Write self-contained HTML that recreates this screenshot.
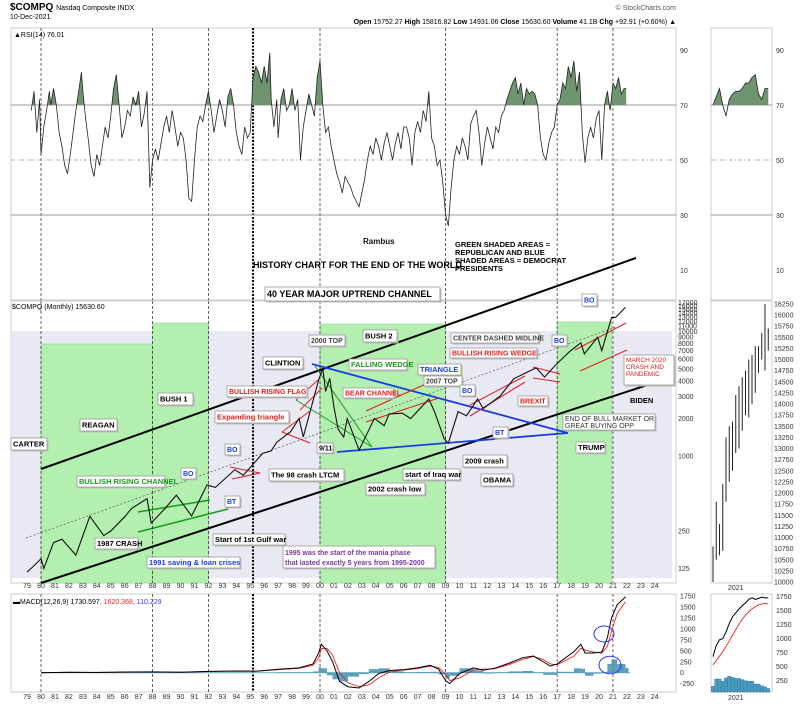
<!DOCTYPE html>
<html><head><meta charset="utf-8"><style>
html,body{margin:0;padding:0;background:#fff;width:800px;height:704px;overflow:hidden}
svg{display:block;font-family:"Liberation Sans",sans-serif}
.lb{fill:#fff;stroke:#999;stroke-width:0.8}
.t{font-size:8px;font-weight:bold;fill:#111}
.ax{font-size:7px;fill:#333}
</style></head><body>
<svg id="c" width="800" height="704" viewBox="0 0 800 704" xmlns="http://www.w3.org/2000/svg">
<text x="10" y="10" font-size="10" font-weight="bold">$COMPQ <tspan font-size="7" font-weight="normal">Nasdaq Composite INDX</tspan></text>
<text x="10" y="19" font-size="7">10-Dec-2021</text>
<text x="676" y="10" font-size="7" text-anchor="end" fill="#555">© StockCharts.com</text>
<text x="676" y="24" font-size="7" text-anchor="end"><tspan font-weight="bold">Open</tspan> 15752.27 <tspan font-weight="bold">High</tspan> 15816.82 <tspan font-weight="bold">Low</tspan> 14931.06 <tspan font-weight="bold">Close</tspan> 15630.60 <tspan font-weight="bold">Volume</tspan> 41.1B <tspan font-weight="bold">Chg</tspan> +92.91 (+0.60%) ▲</text>
<g id="panels"></g>
<g id="shade"></g>
<g id="grid"></g>
<g id="series"></g>
<g id="notes">
<text x="363" y="244" class="t" font-weight="normal">Rambus</text>
<text x="253" y="268" font-size="9" font-weight="bold">HISTORY CHART FOR THE END OF THE WORLD</text>
<text font-size="7.5" font-weight="bold"><tspan x="455" y="247">GREEN SHADED AREAS =</tspan><tspan x="455" y="255">REPUBLICAN AND BLUE</tspan><tspan x="455" y="263">SHADED AREAS = DEMOCRAT</tspan><tspan x="455" y="271">PRESIDENTS</tspan></text>
</g>
</svg>
<script>
// ---------- data ----------
const priceYears=[1979.0,1979.6,1980.0,1980.2,1980.9,1981.5,1982.5,1983.5,1984.5,1985.0,1986.0,1986.5,1987.6,1987.9,1988.9,1989.7,1990.8,1991.9,1992.5,1993.9,1994.5,1995.9,1996.5,1996.9,1997.9,1998.5,1998.8,1999.9,2000.2,2000.4,2000.7,2001.0,2001.3,2001.7,2001.95,2002.8,2003.9,2004.6,2004.95,2005.9,2006.5,2007.8,2008.2,2008.9,2009.2,2009.9,2010.5,2011.3,2011.7,2012.9,2013.9,2014.9,2015.5,2016.1,2016.9,2017.9,2018.7,2018.95,2019.9,2020.2,2020.9,2021.2,2021.9];
const priceVals=[117,135,150,125,202,215,160,328,230,250,325,380,455,290,380,485,330,586,560,777,700,1052,1100,1290,1570,2000,1420,4069,5048,3300,4200,2470,1640,1420,2000,1114,2003,1750,2175,2205,2000,2860,2280,1380,1268,2269,2100,2870,2400,3020,4177,4736,5100,4300,5383,6903,8100,6600,8972,7000,12888,13000,15630];
const priceTicks=[125,250,1000,2000,3000,4000,5000,6000,7000,8000,9000,10000,11000,12000,13000,14000,15000,16000,17000];
const rsiYears=[1979.3,1979.5,1979.7,1979.9,1980.0,1980.2,1980.4,1980.6,1980.7,1980.9,1981.1,1981.3,1981.5,1981.7,1981.9,1982.1,1982.3,1982.5,1982.7,1982.9,1983.0,1983.2,1983.4,1983.6,1983.8,1984.0,1984.2,1984.4,1984.6,1984.8,1985.0,1985.2,1985.4,1985.6,1985.8,1986.0,1986.2,1986.4,1986.6,1986.8,1987.0,1987.2,1987.4,1987.6,1987.8,1988.0,1988.2,1988.4,1988.6,1988.8,1989.0,1989.2,1989.4,1989.6,1989.8,1990.0,1990.2,1990.4,1990.6,1990.8,1991.0,1991.2,1991.4,1991.6,1991.8,1992.0,1992.2,1992.4,1992.6,1992.8,1993.0,1993.2,1993.4,1993.6,1993.8,1994.0,1994.2,1994.4,1994.6,1994.8,1995.0,1995.2,1995.4,1995.6,1995.8,1996.0,1996.2,1996.4,1996.5,1996.7,1996.9,1997.0,1997.2,1997.4,1997.6,1997.8,1998.0,1998.2,1998.4,1998.6,1998.8,1999.0,1999.2,1999.4,1999.6,1999.8,2000.0,2000.2,2000.4,2000.6,2000.8,2001.0,2001.2,2001.4,2001.6,2001.8,2002.0,2002.2,2002.4,2002.6,2002.8,2003.0,2003.2,2003.4,2003.6,2003.8,2004.0,2004.2,2004.4,2004.6,2004.8,2005.0,2005.2,2005.4,2005.6,2005.8,2006.0,2006.2,2006.4,2006.6,2006.8,2007.0,2007.2,2007.4,2007.6,2007.8,2008.0,2008.2,2008.4,2008.6,2008.8,2009.0,2009.2,2009.4,2009.6,2009.8,2010.0,2010.2,2010.4,2010.6,2010.8,2011.0,2011.2,2011.4,2011.6,2011.8,2012.0,2012.2,2012.4,2012.6,2012.8,2013.0,2013.2,2013.4,2013.6,2013.8,2014.0,2014.2,2014.4,2014.6,2014.8,2015.0,2015.2,2015.4,2015.6,2015.8,2016.0,2016.2,2016.4,2016.6,2016.8,2017.0,2017.2,2017.4,2017.6,2017.8,2018.0,2018.2,2018.4,2018.6,2018.8,2019.0,2019.2,2019.4,2019.6,2019.8,2020.0,2020.2,2020.4,2020.6,2020.8,2021.0,2021.2,2021.4,2021.6,2021.8,2021.95];
const rsiVals=[68,75,60,72,52,62,68,75,70,76,70,60,55,48,45,52,60,68,75,82,75,65,57,48,44,52,48,55,62,58,66,76,81,70,58,62,68,66,73,70,75,62,67,75,40,50,54,50,56,62,66,60,68,62,55,60,58,50,36,35,50,62,66,64,70,75,68,60,66,72,68,62,73,76,70,60,55,52,62,58,60,80,84,82,78,84,78,89,72,62,72,58,72,76,68,70,76,68,72,50,62,68,74,70,66,80,86,70,60,62,55,50,45,42,38,44,42,40,37,35,33,38,43,50,55,52,58,55,50,56,60,55,50,56,60,54,62,62,58,48,60,64,60,68,64,75,58,55,48,50,42,30,26,40,50,55,52,58,55,50,63,66,68,60,48,56,62,58,54,62,60,66,68,72,75,78,80,74,78,70,76,74,75,74,70,58,52,50,56,60,62,70,72,78,76,84,80,86,75,82,60,49,58,62,58,65,68,50,70,75,68,78,76,80,74,76,76];
const rsiTicks=[10,30,50,70,90];
const macdYears=[1980,1982,1984,1986,1988,1990,1992,1994,1995.5,1997,1998.5,1999.5,1999.9,2000.1,2000.5,2000.9,2001.4,2002.0,2002.8,2003.5,2004.2,2005,2006,2007,2007.9,2008.5,2009.0,2009.3,2010.0,2011.0,2011.7,2012.5,2013.5,2014.5,2015.3,2016.0,2016.5,2017.0,2018.2,2018.7,2019.0,2019.6,2020.2,2020.6,2020.9,2021.3,2021.9];
const macdVals=[0,10,5,15,20,10,30,40,35,80,110,200,450,650,500,250,-200,-320,-350,-200,-20,50,70,110,170,80,-180,-250,-20,110,60,100,210,340,380,250,150,200,480,650,450,450,470,800,1250,1550,1730];
const signalVals=[0,8,8,12,18,12,25,38,35,70,100,170,330,550,560,400,0,-230,-320,-280,-120,20,60,95,150,120,-40,-180,-120,60,80,90,180,300,370,300,200,180,380,560,520,470,450,600,950,1350,1620];
const macdTicks=[-250,0,250,500,750,1000,1250,1500,1750];
const yearTicks=["79","80","81","82","83","84","85","86","87","88","89","90","91","92","93","94","95","96","97","98","99","00","01","02","03","04","05","06","07","08","09","10","11","12","13","14","15","16","17","18","19","20","21","22","23","24"];
const eraStarts=[1980,1988,1992,2000,2009,2017,2021];
// mini 2021 panel
const miniLows=[10000,10500,10600,10700,11800,12250,12500,12900,13000,13400,13750,13700,14000,14250,14700,15000,14750,15200];
const miniHighs=[10800,11800,11300,12200,13250,13500,13600,14200,14400,14600,14750,15000,15100,15300,15300,15600,16250,15700];
const miniPriceTicks=[10000,10250,10500,10750,11000,11250,11500,11750,12000,12250,12500,12750,13000,13250,13500,13750,14000,14250,14500,14750,15000,15250,15500,15750,16000,16250];
const miniRsi=[70,73,76,70,66,72,74,75,75,76,78,78,80,81,74,72,76,76];
const miniMacd=[680,880,980,1000,1120,1270,1390,1460,1530,1590,1640,1700,1730,1700,1720,1740,1730,1730];
const miniSignal=[530,610,690,770,860,960,1060,1160,1260,1350,1420,1480,1530,1570,1600,1620,1630,1620];
const miniHist=[150,280,280,240,300,330,310,290,290,270,250,240,240,190,190,160,140,110];
const miniMacdTicks=[250,500,750,1000,1250,1500,1750];

// ---------- scales ----------
const NS="http://www.w3.org/2000/svg";
const X=y=>41+(y-1980)*13.95;
const PY=v=>456-124.6*Math.log10(v/1000);
const RY=v=>105-(v-70)*2.75;
const MY=v=>672.7-v*0.0438;
const mX=i=>713+i*3.25;
const mPY=v=>582-(v-10000)*0.0445;
const mMY=v=>596.7+(1750-v)*0.056;
function el(tag,attrs,parent){const e=document.createElementNS(NS,tag);for(const k in attrs)e.setAttribute(k,attrs[k]);(parent||document.getElementById('series')).appendChild(e);return e;}
const P=document.getElementById('panels'),S=document.getElementById('shade'),G=document.getElementById('grid'),SE=document.getElementById('series');

// panel frames
[[11,28,665,272,'rsi-panel'],[11,301,665,282,'price-panel'],[11,594,665,98,'macd-panel'],[711,28,61,272,'mini-rsi-panel'],[711,301,61,282,'mini-price-panel'],[711,594,61,98,'mini-macd-panel']].forEach(p=>{
 const r=el('rect',{x:p[0],y:p[1],width:p[2],height:p[3],fill:'#fff',stroke:'#ccc','stroke-width':1},P);
 
 
});

// president shading
const bg=el('rect',{x:11,y:331,width:661,height:247,fill:'#e9e9f4'},S);


[[1980,1988,344,'reagan-shading'],[1988,1992,323,'bush1-shading'],[2000,2009,324,'bush2-shading'],[2017,2020.9,322,'trump-shading']].forEach(g=>{
 const r=el('rect',{x:X(g[0]),y:g[2],width:X(g[1])-X(g[0]),height:583-g[2],fill:'#b3f0b0',stroke:'#8fd88a','stroke-width':0.6},S);
 
 
});

// vertical era lines
eraStarts.forEach(y=>{
 [[28,300],[301,583],[594,692]].forEach(s=>{
  const l=el('line',{x1:X(y),x2:X(y),y1:s[0],y2:s[1],stroke:'#222','stroke-width':0.7,'stroke-dasharray':'3,2'},G);
  
  
 });
});
[[28,300],[301,583],[594,692]].forEach(s=>{
 const l=el('line',{x1:X(1995.2),x2:X(1995.2),y1:s[0],y2:s[1],stroke:'#000','stroke-width':2,'stroke-dasharray':'2,1.5'},G);
 
 
});

// year labels
yearTicks.forEach((t,i)=>{
 [588,699].forEach(yy=>{
  const tx=el('text',{x:X(1979+i),y:yy,'text-anchor':'middle',class:'ax'},G);
  tx.textContent=t;
  
  
 });
});
[[728,590],[728,700]].forEach(p=>{const tx=el('text',{x:p[0],y:p[1],class:'ax'},G);tx.textContent='2021';
 
 });

// RSI ticks and lines
rsiTicks.forEach(v=>{
 [[680],[776]].forEach(p=>{const tx=el('text',{x:p[0],y:RY(v)+3,class:'ax'},G);tx.textContent=v;
  
  });
 if(v==70||v==30||v==50){
  [[11,676],[711,772]].forEach(s=>{const l=el('line',{x1:s[0],x2:s[1],y1:RY(v),y2:RY(v),stroke:'#999','stroke-width':v==50?0.7:1,'stroke-dasharray':v==50?'4,2,1,2':'none'},G);
   
   });
 }
});
// RSI series
function rsiDraw(xs,vals,xf,name){
 const pts=vals.map((v,i)=>xf(xs[i])+','+RY(v)).join(' ');
 const cid='clip'+name;
 const cp=el('clipPath',{id:cid},SE);
 el('rect',{x:0,y:0,width:800,height:RY(70)},cp);
 const fillPts=xf(xs[0])+','+RY(70)+' '+pts+' '+xf(xs[xs.length-1])+','+RY(70);
 const f=el('polygon',{points:fillPts,fill:'#6f9470','clip-path':'url(#'+cid+')'});
 
 
 const l=el('polyline',{points:pts,fill:'none',stroke:'#222','stroke-width':0.8});
 
 
}
rsiDraw(rsiYears,rsiVals,X,'rsi');
rsiDraw(miniRsi.map((v,i)=>i),miniRsi,mX,'mini-rsi');

// price ticks
priceTicks.forEach(v=>{const tx=el('text',{x:678,y:PY(v)+2.5,class:'ax','font-size':6},G);tx.textContent=v;
 
 });
miniPriceTicks.forEach(v=>{const tx=el('text',{x:774,y:mPY(v)+2.5,class:'ax','font-size':6.5},G);tx.textContent=v;
 
 });

// channel lines
[[41,469,636,258,'#000',2,'upper-channel-line',''],[41,583,672,377,'#000',2,'lower-channel-line',''],[26,538,616,327,'#555',0.7,'center-dashed-midline','2,2'],
 [312,364,568,433,'#1a3de0',1.8,'triangle-upper-line',''],[337,452,568,433,'#1a3de0',1.8,'triangle-lower-line',''],
 [315,366,372,447,'#1a9a1a',1,'falling-wedge-upper',''],[296,400,372,447,'#1a9a1a',1,'falling-wedge-lower',''],
 [138,512,210,500,'#1a9a1a',1.5,'rising-channel-upper',''],[138,532,228,509,'#1a9a1a',1.5,'rising-channel-lower',''],
 [282,432,310,411,'#e02020',1,'expanding-triangle-upper',''],[282,432,310,443,'#e02020',1,'expanding-triangle-lower',''],
 [300,410,322,388,'#e02020',1,'rising-flag-lower',''],[296,400,318,380,'#e02020',1,'rising-flag-upper',''],
 [230,467,260,473,'#e02020',1,'bo-triangle-upper',''],[232,479,260,473,'#e02020',1,'bo-triangle-lower',''],
 [366,422,439,398,'#e02020',1.1,'bear-channel-lower',''],[366,411,439,378,'#e02020',1.1,'bear-channel-upper',''],
 [470,416,525,382,'#e02020',1.1,'rising-wedge-lower',''],[470,405,525,376,'#e02020',1.1,'rising-wedge-upper',''],
 [533,367,560,374,'#e02020',1,'brexit-upper',''],[533,378,560,382,'#e02020',1,'brexit-lower',''],
 [575,350,626,323,'#e02020',1.1,'pandemic-upper',''],[580,371,627,350,'#e02020',1.1,'pandemic-lower','']
].forEach(c=>{const l=el('line',{x1:c[0],y1:c[1],x2:c[2],y2:c[3],stroke:c[4],'stroke-width':c[5],'stroke-dasharray':c[7]||'none'},S);
 
 });

// price series
const pl=el('polyline',{points:priceVals.map((v,i)=>X(priceYears[i])+','+PY(v)).join(' '),fill:'none',stroke:'#111','stroke-width':1.1});


// mini price bars
miniLows.forEach((lo,i)=>{
 const b=el('line',{x1:mX(i),x2:mX(i),y1:mPY(miniHighs[i]),y2:mPY(lo),stroke:'#222','stroke-width':1});
 
 
});

// MACD
macdTicks.forEach(v=>{const tx=el('text',{x:680,y:MY(v)+2.5,class:'ax'},G);tx.textContent=v;
 
 });
miniMacdTicks.forEach(v=>{const tx=el('text',{x:776,y:mMY(v)+2.5,class:'ax'},G);tx.textContent=v;
 
 });
const z=el('line',{x1:41,x2:630,y1:MY(0),y2:MY(0),stroke:'#6ab',"stroke-width":1},G);


macdVals.forEach((v,i)=>{
 const d=v-signalVals[i];
 const w=i<macdVals.length-1?Math.max(1,X(macdYears[i+1])-X(macdYears[i])):3;
 const r=el('rect',{x:X(macdYears[i]),y:Math.min(MY(0),MY(d)),width:w,height:Math.abs(MY(d)-MY(0)),fill:'#3f8fb0',opacity:0.85});
 
 
});
const sl=el('polyline',{points:signalVals.map((v,i)=>X(macdYears[i])+','+MY(v)).join(' '),fill:'none',stroke:'#e22','stroke-width':0.9});


const ml=el('polyline',{points:macdVals.map((v,i)=>X(macdYears[i])+','+MY(v)).join(' '),fill:'none',stroke:'#000','stroke-width':1});


miniHist.forEach((v,i)=>{
 const r=el('rect',{x:mX(i)-1.6,y:mMY(v),width:3.2,height:692-mMY(v),fill:'#4a9cc4',stroke:'#2a6f8f','stroke-width':0.4});
 
 
});
const msl=el('polyline',{points:miniSignal.map((v,i)=>mX(i)+','+mMY(v)).join(' '),fill:'none',stroke:'#e22','stroke-width':0.9});


const mml=el('polyline',{points:miniMacd.map((v,i)=>mX(i)+','+mMY(v)).join(' '),fill:'none',stroke:'#000','stroke-width':1});


[[604,634,10,'circle'],[610,665,11,'circle']].forEach(c=>{const e=el('ellipse',{cx:c[0],cy:c[1],rx:c[2],ry:c[2]*0.8,fill:'none',stroke:'#33f','stroke-width':1});
 
 });

// panel labels
[[14,37,'▲RSI(14) 76.01','rsi-legend'],[12,309,'$COMPQ (Monthly) 15630.60','price-legend']].forEach(p=>{const tx=el('text',{x:p[0],y:p[1],'font-size':7},G);tx.textContent=p[2];
 
 });
const mt=el('text',{x:13,y:604,'font-size':7},G);
mt.innerHTML='▬MACD(12,26,9) 1730.597<tspan fill="#e22">, 1620.368</tspan><tspan fill="#33f">, 110.229</tspan>';



// annotation boxes
const notes=document.getElementById('notes');
[
 [265,287,175,14,'40 YEAR MAJOR UPTREND CHANNEL','#000',9,'channel-title-box'],
 [11,438,36,12,'CARTER','#000',7.5,'carter-label'],[80,419,37,12,'REAGAN','#000',7.5,'reagan-label'],
 [158,393,35,12,'BUSH 1','#000',7.5,'bush1-label'],[263,357,40,12,'CLINTION','#000',7.5,'clinton-label'],
 [309,335,36,11,'2000 TOP','#444',7,'2000-top-label'],[363,330,34,12,'BUSH 2','#000',7.5,'bush2-label'],
 [349,359,58,11,'FALLING WEDGE','#1a9a1a',7.5,'falling-wedge-label'],[418,364,43,11,'TRIANGLE','#1a3de0',7.5,'triangle-label'],
 [424,376,38,10,'2007 TOP','#444',7,'2007-top-label'],[451,333,88,10,'CENTER DASHED MIDLINE','#444',7,'midline-label'],
 [450,348,87,10,'BULLISH RISING WEDGE','#e02020',7,'rising-wedge-label'],[227,386,80,11,'BULLISH RISING FLAG','#e02020',7,'rising-flag-label'],
 [215,411,74,12,'Expanding triangle','#e02020',7.5,'expanding-triangle-label'],[343,388,51,10,'BEAR CHANNEL','#e02020',7,'bear-channel-label'],
 [518,396,30,10,'BREXIT','#e02020',7,'brexit-label'],[563,414,92,16,'','#444',7,'bull-market-box'],
 [576,442,29,11,'TRUMP','#000',7.5,'trump-label'],[317,443,16,10,'9/11','#000',7,'911-label'],
 [269,469,75,12,'The 98 crash LTCM','#000',7.5,'ltcm-label'],[403,469,57,11,'start of Iraq war','#000',7.5,'iraq-war-label'],
 [463,455,44,12,'2009 crash','#000',7.5,'2009-crash-label'],[366,483,59,12,'2002 crash low','#000',7.5,'2002-low-label'],
 [481,474,32,12,'OBAMA','#000',7.5,'obama-label'],[77,476,88,11,'BULLISH RISING CHANNEL','#1a9a1a',7.5,'rising-channel-label'],
 [95,538,43,11,'1987 CRASH','#000',7.5,'1987-crash-label'],[213,534,72,11,'Start of 1st Gulf war','#000',7.5,'gulf-war-label'],
 [147,557,93,11,'1991 saving & loan crises','#1a3de0',7.5,'savings-loan-label'],[283,546,152,22,'','#7a3a9a',7.5,'mania-box'],
 [624,355,50,30,'','#e02020',7,'pandemic-box'],
 [225,444,15,11,'BO','#1a3de0',7,'bo-label'],[181,468,15,11,'BO','#1a3de0',7,'bo-label'],[460,385,15,11,'BO','#1a3de0',7,'bo-label'],
 [552,335,15,11,'BO','#1a3de0',7,'bo-label'],[582,294,15,12,'BO','#1a3de0',7,'bo-label'],
 [225,496,15,11,'BT','#1a3de0',7,'bt-label'],[493,427,15,11,'BT','#1a3de0',7,'bt-label']
].forEach(n=>{
 const g=el('g',{},notes);
 
 
 el('rect',{x:n[0]+1.5,y:n[1]+1.5,width:n[2],height:n[3],fill:'#bbb'},g);
 el('rect',{x:n[0],y:n[1],width:n[2],height:n[3],class:'lb'},g);
 if(n[4]){const t=el('text',{x:n[0]+2,y:n[1]+n[3]/2+n[6]*0.36,'font-size':n[6],'font-weight':'bold',fill:n[5]},g);t.textContent=n[4];}
});
const bm=el('text',{'font-size':7,fill:'#333'},notes);
bm.innerHTML='<tspan x="565" y="421">END OF BULL MARKET OR</tspan><tspan x="565" y="428">GREAT BUYING OPP</tspan>';


const mn=el('text',{'font-size':7,fill:'#7a3a9a','font-weight':'bold'},notes);
mn.innerHTML='<tspan x="285" y="555">1995 was the start of the mania phase</tspan><tspan x="285" y="565">that lasted exactly 5 years from 1995-2000</tspan>';


const pn=el('text',{'font-size':6.5,fill:'#e02020'},notes);
pn.innerHTML='<tspan x="626" y="362">MARCH 2020</tspan><tspan x="626" y="369">CRASH AND</tspan><tspan x="626" y="376">PANDEMIC</tspan>';


const bd=el('text',{x:630,y:403,'font-size':7.5,'font-weight':'bold'},notes);
bd.textContent='BIDEN';


</script>
</body></html>
